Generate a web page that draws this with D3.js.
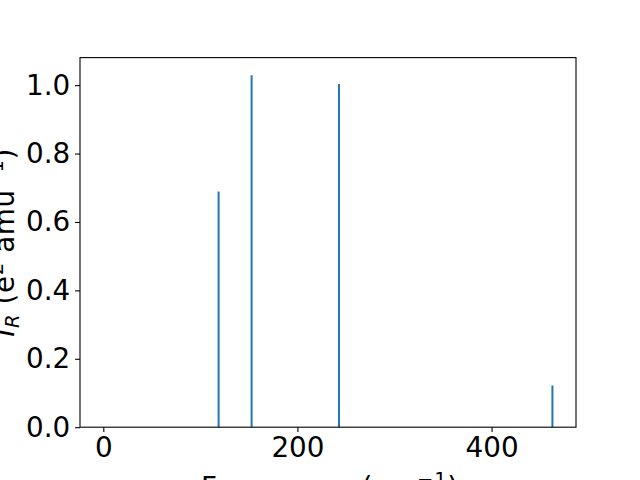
<!DOCTYPE html>
<html><head><meta charset="utf-8">
<script src="https://cdn.jsdelivr.net/npm/d3@7"></script>
<style>body{margin:0;background:#fff;overflow:hidden;} svg{display:block;} text{font-family:"DejaVu Sans",sans-serif;}</style>
</head><body>
<svg id="c" width="640" height="480"></svg>
<script>
const frequencies = [118.8, 152.8, 242.8, 462.7];
const intensities = [0.689, 1.029, 1.003, 0.122];
const xTicks = [0, 200, 400];
const yTicks = [0.0, 0.2, 0.4, 0.6, 0.8, 1.0];

const W = 640, H = 480;
const m = {left: 80, right: 576, top: 57.6, bottom: 427.2};
const svg = d3.select("#c");
svg.append("rect").attr("width", W).attr("height", H).attr("fill", "#fff");

const x = d3.scaleLinear().domain([-24, 487]).range([m.left, m.right]);
const y = d3.scaleLinear().domain([0, 1.0805]).range([m.bottom, m.top]);

const fs = 27.8;
svg.append("g").selectAll("line").data(frequencies).join("line")
  .attr("x1", d => x(d)).attr("x2", d => x(d))
  .attr("y1", y(0)).attr("y2", (d, i) => y(intensities[i]))
  .attr("stroke", "#1f77b4").attr("stroke-width", 2);

const xa = svg.append("g").attr("transform", `translate(0,${m.bottom})`)
  .call(d3.axisBottom(x).tickValues(xTicks).tickFormat(d3.format("d")).tickSizeInner(4.9).tickSizeOuter(0).tickPadding(4.9));
const ya = svg.append("g").attr("transform", `translate(${m.left},0)`)
  .call(d3.axisLeft(y).tickValues(yTicks).tickFormat(d3.format(".1f")).tickSizeInner(4.9).tickSizeOuter(0).tickPadding(4.9));
[xa, ya].forEach(a => {
  a.select(".domain").remove();
  a.selectAll("line").attr("stroke", "#000").attr("stroke-width", 1.1);
  a.selectAll("text").attr("font-size", fs).attr("fill", "#000").attr("font-family", "DejaVu Sans");
});

svg.append("rect").attr("x", m.left).attr("y", m.top)
  .attr("width", m.right - m.left).attr("height", m.bottom - m.top)
  .attr("fill", "none").attr("stroke", "#000").attr("stroke-width", 1.1);

// axis labels
const xl = svg.append("text").attr("x", (m.left + m.right) / 2 + 2).attr("y", 497)
  .attr("text-anchor", "middle").attr("font-size", fs).attr("letter-spacing", 0.8);
xl.append("tspan").text("Frequency (cm");
xl.append("tspan").attr("dy", -11).attr("font-size", fs * 0.7).text("−1");
xl.append("tspan").attr("dy", 11).text(")");

const yl = svg.append("text").attr("transform", `translate(14,${(m.top + m.bottom) / 2}) rotate(-90)`)
  .attr("text-anchor", "middle").attr("font-size", fs).attr("letter-spacing", 0.6);
yl.append("tspan").attr("font-style", "italic").text("I");
yl.append("tspan").attr("dy", 5).attr("font-size", fs * 0.7).attr("font-style", "italic").text("R");
yl.append("tspan").attr("dy", -5).text(" (e");
yl.append("tspan").attr("dy", -11).attr("font-size", fs * 0.7).text("2");
yl.append("tspan").attr("dy", 11).text(" amu");
yl.append("tspan").attr("dy", -11).attr("font-size", fs * 0.7).text("−1");
yl.append("tspan").attr("dy", 11).text(")");
</script>
</body></html>
